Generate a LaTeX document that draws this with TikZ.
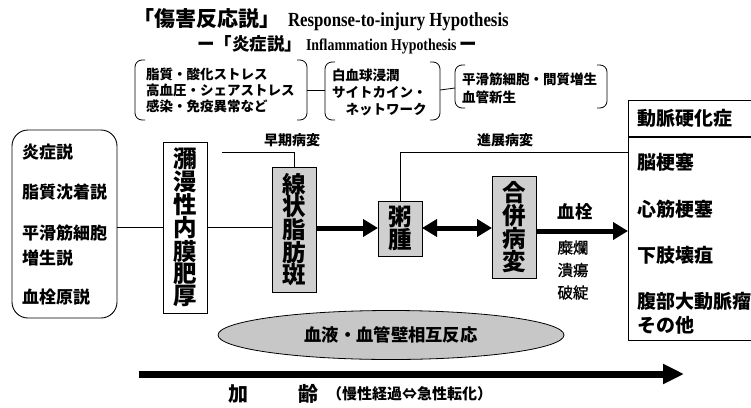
\documentclass[tikz,border=0pt]{standalone}
\usepackage{fontspec}
\newfontfamily\jp{Noto Sans CJK JP}
\newfontfamily\jpm{Noto Sans CJK JP}[FakeBold=1.2]
\newfontfamily\tms{Liberation Serif}[FakeStretch=0.84]
\usetikzlibrary{arrows.meta,shapes.geometric}
\definecolor{boxgray}{gray}{0.81}
\definecolor{ellgray}{gray}{0.78}
\begin{document}
\begin{tikzpicture}[x=1pt,y=-1pt,
  every node/.style={inner sep=0pt, outer sep=0pt},
  jpb/.style={font={\jp\bfseries\fontsize{#1}{#1}\selectfont}},
  vbox/.style={draw, line width=0.9pt, align=center, minimum width=44},
  thin/.style={line width=0.8pt},
  brk/.style={line width=0.8pt, rounded corners=7},
  fatarrow/.style={line width=5pt, -{Triangle[length=15pt,width=17pt]}},
  fatdbl/.style={line width=5pt, {Triangle[length=15pt,width=17pt]}-{Triangle[length=15pt,width=17pt]}},
]
\useasboundingbox (0,0) rectangle (751,407);
\clip (0,0) rectangle (751,407);

% titles
\node[anchor=west] (t1) at (133,20) {{\jp\bfseries\fontsize{21}{21}\selectfont 「傷害反応説」}\hspace{8pt}{\tms\bfseries\fontsize{20}{20}\selectfont Response-to-injury Hypothesis}};
\node[anchor=west] (t2) at (197,45) {{\jp\bfseries\fontsize{17.5}{17.5}\selectfont ー「炎症説」}\hspace{4pt}{\tms\bfseries\fontsize{16.5}{16.5}\selectfont Inflammation Hypothesis}\hspace{3pt}{\jp\bfseries\fontsize{17.5}{17.5}\selectfont ー}};

% bracket boxes
\coordinate (b1l) at (135,90); \coordinate (b1r) at (307,90);
\coordinate (b2l) at (325,90); \coordinate (b2r) at (440,90);
\coordinate (b3l) at (455,88); \coordinate (b3r) at (607,88);
\draw[brk] (145,60) -- (135,60) -- (135,120) -- (145,120);
\draw[brk] (297,60) -- (307,60) -- (307,120) -- (297,120);
\draw[brk] (335,62) -- (325,62) -- (325,120) -- (335,120);
\draw[brk] (430,62) -- (440,62) -- (440,120) -- (430,120);
\draw[brk] (465,65) -- (455,65) -- (455,108) -- (465,108);
\draw[brk] (597,65) -- (607,65) -- (607,108) -- (597,108);
\draw[thin] (b1r) -- (b2l);
\draw[thin] (b2r) -- (b3l);
\node[anchor=west, align=left, font={\jp\bfseries\fontsize{13.5}{16}\selectfont}] (bt1) at (146,90) {脂質・酸化ストレス\\高血圧・シェアストレス\\感染・免疫異常など};
\node[anchor=west, align=left, font={\jp\bfseries\fontsize{13.5}{17}\selectfont}] (bt2) at (332,92) {白血球浸潤\\サイトカイン・\\\hspace*{1em}ネットワーク};
\node[anchor=west, align=left, font={\jp\bfseries\fontsize{13.5}{18}\selectfont}] (bt3) at (462,88) {平滑筋細胞・間質増生\\血管新生};

% left box
\node[draw, line width=0.9pt, rounded corners=16, minimum width=105, minimum height=188, anchor=north west] (lb) at (12,130) {};
\node[anchor=west, jpb=17] (l1) at (22,152) {炎症説};
\node[anchor=west, jpb=17] (l2) at (22,192) {脂質沈着説};
\node[anchor=west, jpb=17] (l3) at (22,233) {平滑筋細胞};
\node[anchor=west, jpb=17] (l4) at (22,258) {増生説};
\node[anchor=west, jpb=17] (l5) at (22,297) {血栓原説};

% vertical boxes
\node[vbox, fill=white, minimum height=171, font={\jp\bfseries\fontsize{23.5}{22.3}\selectfont}] (dif) at (185,227.5) {瀰\\漫\\性\\内\\膜\\肥\\厚};
\node[vbox, fill=boxgray, minimum height=125, font={\jp\bfseries\fontsize{23.5}{22.6}\selectfont}] (fat) at (294,229.5) {線\\状\\脂\\肪\\斑};
\node[vbox, fill=boxgray, minimum height=55, font={\jp\bfseries\fontsize{23.5}{22}\selectfont}] (ath) at (400,228.5) {粥\\腫};
\node[vbox, fill=boxgray, minimum height=102, font={\jp\bfseries\fontsize{23.5}{22.5}\selectfont}] (cmp) at (514,227) {合\\併\\病\\変};

% right box
\node[draw, line width=0.9pt, minimum width=150, minimum height=240, anchor=north west] (rb) at (628,100) {};
\draw[line width=1.3pt] (rb.west |- 0,137) -- (rb.east |- 0,137);
\node[anchor=west, jpb=19] (r0) at (637,118) {動脈硬化症};
\node[anchor=west, jpb=19] (r1) at (637,162) {脳梗塞};
\node[anchor=west, jpb=19] (r2) at (637,209) {心筋梗塞};
\node[anchor=west, jpb=19] (r3) at (637,255) {下肢壊疽};
\node[anchor=west, jpb=19] (r4) at (637,301) {腹部大動脈瘤};
\node[anchor=west, jpb=19] (r5) at (637,325) {その他};

% connectors
\draw[thin] (lb.east |- 0,227) -- (dif.west |- 0,227);
\draw[thin] (dif.east |- 0,227) -- (fat.west |- 0,227);
\coordinate (e0) at (222,152);
\draw[thin] (e0) -- (e0 -| fat.north) -- (fat.north);
\node[jpb=14] (early) at (292,140) {早期病変};
\draw[thin] (ath.north) -- (ath.north |- 0,152) -- (rb.west |- 0,152);
\node[jpb=14] (adv) at (505,140) {進展病変};

\draw[fatarrow] (fat.east |- 0,228) -- (ath.west |- 0,228);
\draw[fatdbl] (ath.east |- 0,228) -- (cmp.west |- 0,228);
\draw[fatarrow] (cmp.east |- 0,231) -- (rb.west |- 0,231);
\node[jpb=17.5] (thr) at (575,212) {血栓};
\node[align=center, font={\jpm\fontsize{15.5}{22.5}\selectfont}] (erz) at (573,270) {糜爛\\潰瘍\\破綻};

% ellipse
\node[ellipse, draw, line width=0.8pt, fill=ellgray, minimum width=346, minimum height=49, jpb=17.3] (el) at (391,335) {血液・血管壁相互反応};

% aging arrow
\coordinate (a0) at (139,374);
\coordinate (a1) at (684,374);
\draw[line width=7pt, -{Triangle[length=21pt,width=19pt]}] (a0) -- (a1);
\node[jpb=20] (ka) at (238,394) {加};
\node[jpb=20] (rei) at (308,394) {齢};
\node[anchor=west, jpb=15] (chr) at (327,394) {（慢性経過⇔急性転化）};
\end{tikzpicture}
\end{document}
